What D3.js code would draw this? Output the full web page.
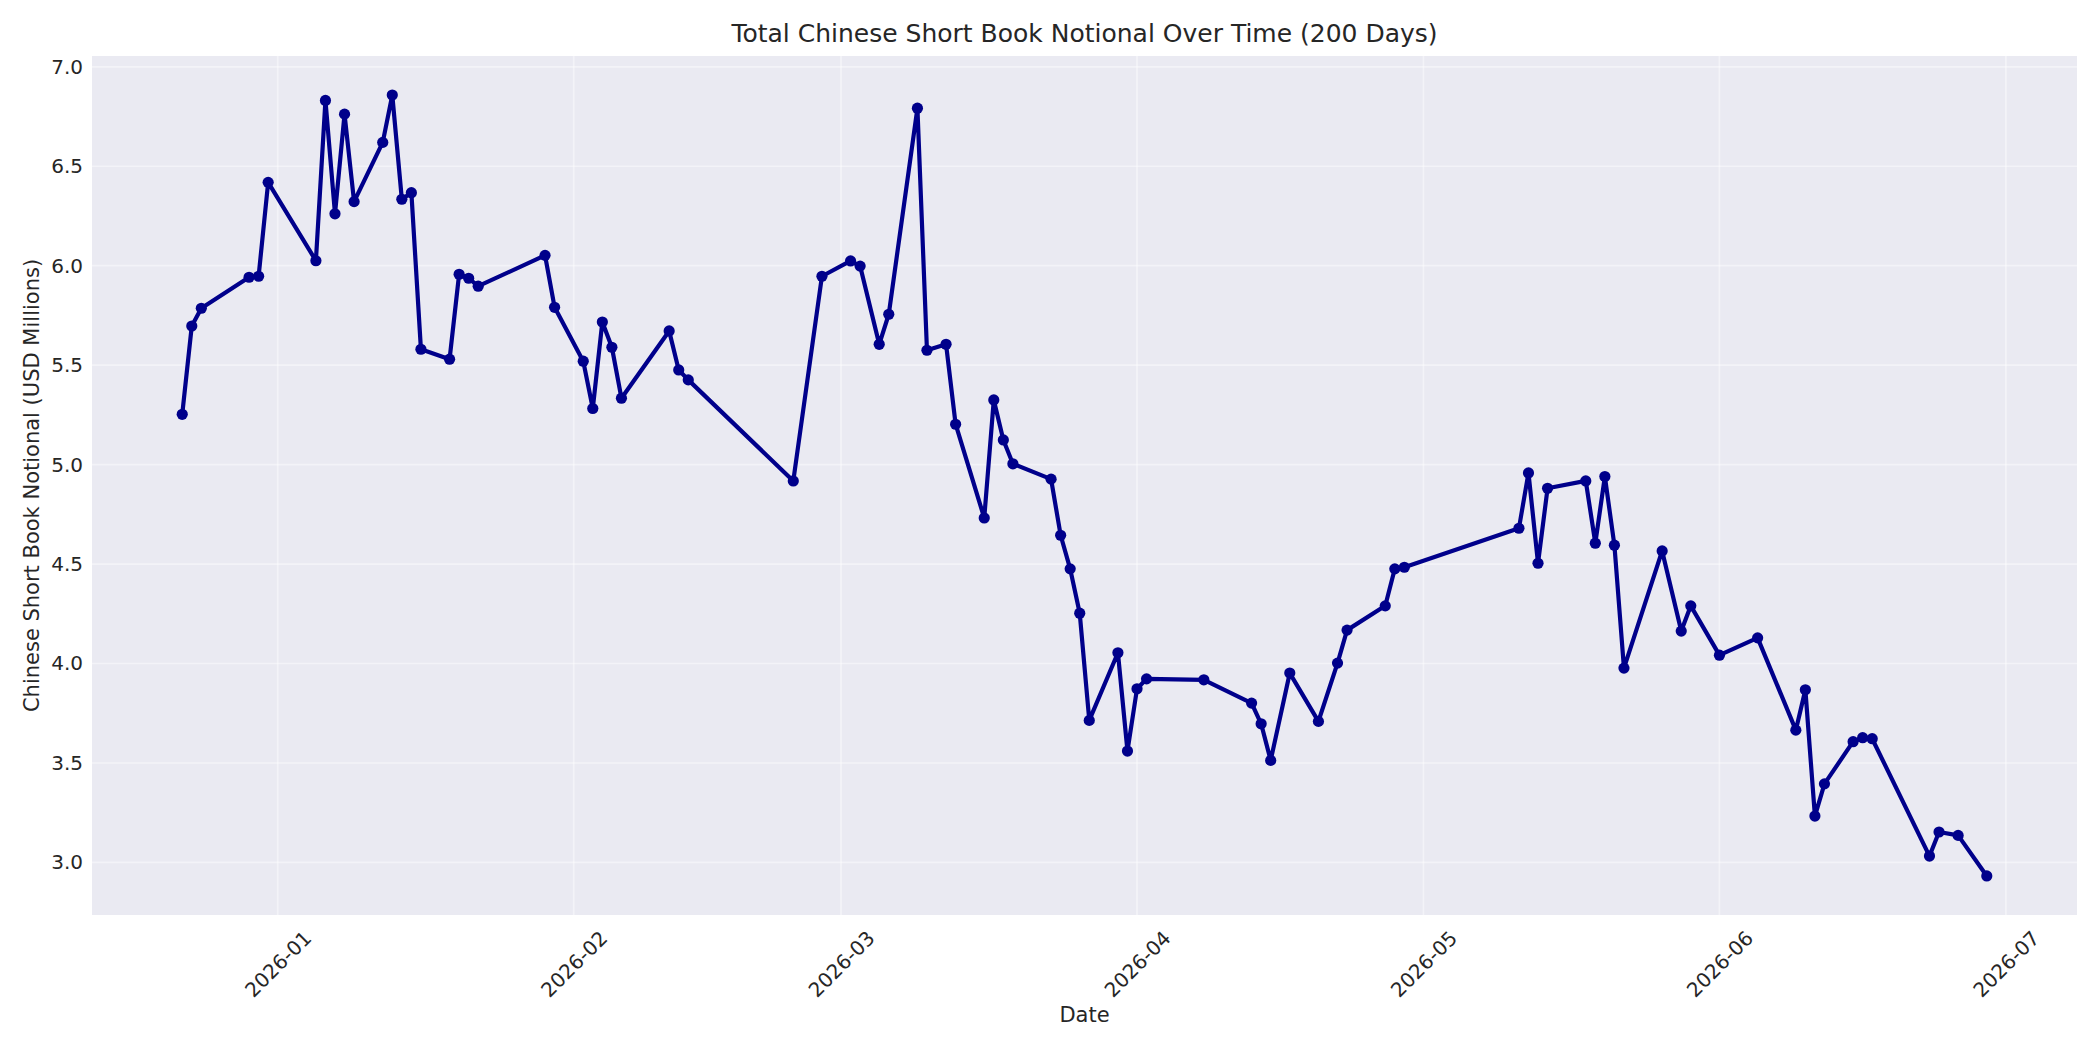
<!DOCTYPE html>
<html>
<head>
<meta charset="utf-8">
<script src="https://cdn.jsdelivr.net/npm/d3@7"></script>
<style>
  body { margin: 0; background: #fff; }
  text { font-family: 'DejaVu Sans', sans-serif; fill: #262626; }
</style>
</head>
<body>
<div class="container"></div>
<script>
// trading days
var dates = [
  '2025-12-22', '2025-12-23', '2025-12-24', '2025-12-29', '2025-12-30', '2025-12-31',
  '2026-01-05', '2026-01-06', '2026-01-07', '2026-01-08', '2026-01-09',
  '2026-01-12', '2026-01-13', '2026-01-14', '2026-01-15', '2026-01-16',
  '2026-01-19', '2026-01-20', '2026-01-21', '2026-01-22', '2026-01-29', '2026-01-30',
  '2026-02-02', '2026-02-03', '2026-02-04', '2026-02-05', '2026-02-06',
  '2026-02-11', '2026-02-12', '2026-02-13', '2026-02-24', '2026-02-27',
  '2026-03-02', '2026-03-03', '2026-03-05', '2026-03-06',
  '2026-03-09', '2026-03-10', '2026-03-12', '2026-03-13',
  '2026-03-16', '2026-03-17', '2026-03-18', '2026-03-19',
  '2026-03-23', '2026-03-24', '2026-03-25', '2026-03-26', '2026-03-27',
  '2026-03-30', '2026-03-31', '2026-04-01', '2026-04-02', '2026-04-08',
  '2026-04-13', '2026-04-14', '2026-04-15', '2026-04-17',
  '2026-04-20', '2026-04-22', '2026-04-23', '2026-04-27', '2026-04-28', '2026-04-29',
  '2026-05-11', '2026-05-12', '2026-05-13', '2026-05-14',
  '2026-05-18', '2026-05-19', '2026-05-20', '2026-05-21', '2026-05-22',
  '2026-05-26', '2026-05-28', '2026-05-29', '2026-06-01', '2026-06-05',
  '2026-06-09', '2026-06-10', '2026-06-11', '2026-06-12',
  '2026-06-15', '2026-06-16', '2026-06-17', '2026-06-23', '2026-06-24', '2026-06-26',
  '2026-06-29'
]

// USD millions
var notional = [
  5.253, 5.697, 5.786, 5.942, 5.947, 6.419,
  6.025, 6.831, 6.261, 6.762, 6.322,
  6.620, 6.858, 6.334, 6.367, 5.580,
  5.530, 5.957, 5.937, 5.897, 6.052, 5.791,
  5.520, 5.282, 5.717, 5.590, 5.334,
  5.672, 5.476, 5.426, 4.918, 5.947,
  6.024, 5.998, 5.605, 5.756,
  6.792, 5.575, 5.605, 5.203,
  4.732, 5.325, 5.124, 5.004,
  4.927, 4.645, 4.476, 4.253, 3.714,
  4.054, 3.560, 3.873, 3.923, 3.918,
  3.801, 3.697, 3.513, 3.952,
  3.709, 4.002, 4.168, 4.290, 4.476, 4.484,
  4.680, 4.958, 4.504, 4.881,
  4.918, 4.605, 4.940, 4.595, 3.977,
  4.566, 4.163, 4.290, 4.042, 4.129,
  3.665, 3.868, 3.233, 3.395,
  3.607, 3.627, 3.622, 3.032, 3.153, 3.136,
  2.932
]

var xTickLabels = ['2026-01', '2026-02', '2026-03', '2026-04', '2026-05', '2026-06', '2026-07']
var yTicks = [3.0, 3.5, 4.0, 4.5, 5.0, 5.5, 6.0, 6.5, 7.0]

var parseDate = d3.utcParse('%Y-%m-%d')
var parseMonth = d3.utcParse('%Y-%m')

var data = dates.map(function (d, i) {
  return { date: parseDate(d), value: notional[i] }
})

var margin = { top: 56, right: 23, bottom: 135, left: 92 }
var width = 2100 - margin.left - margin.right
var height = 1050 - margin.top - margin.bottom

var svg = d3.select('.container')
  .append('svg')
  .attr('width', 2100)
  .attr('height', 1050)
  .append('g')
  .attr('transform', 'translate(' + margin.left + ',' + margin.top + ')')

// matplotlib-style 5% padding on both axes
var tExtent = d3.extent(data, function (d) { return +d.date })
var tPad = (tExtent[1] - tExtent[0]) * 0.05
var vExtent = d3.extent(data, function (d) { return d.value })
var vPad = (vExtent[1] - vExtent[0]) * 0.05

var x = d3.scaleUtc()
  .domain([new Date(tExtent[0] - tPad), new Date(tExtent[1] + tPad)])
  .range([0, width])
var y = d3.scaleLinear()
  .domain([vExtent[0] - vPad, vExtent[1] + vPad])
  .range([height, 0])

var xTicks = xTickLabels.map(parseMonth)

svg.append('rect')
  .attr('width', width)
  .attr('height', height)
  .attr('fill', '#eaeaf2')

// grid
svg.append('g').selectAll('line.hgrid')
  .data(yTicks)
  .enter().append('line')
  .attr('x1', 0).attr('x2', width)
  .attr('y1', function (d) { return y(d) })
  .attr('y2', function (d) { return y(d) })
  .attr('stroke', '#fff').attr('stroke-opacity', 0.45).attr('stroke-width', 1.7)

svg.append('g').selectAll('line.vgrid')
  .data(xTicks)
  .enter().append('line')
  .attr('y1', 0).attr('y2', height)
  .attr('x1', function (d) { return x(d) })
  .attr('x2', function (d) { return x(d) })
  .attr('stroke', '#fff').attr('stroke-opacity', 0.45).attr('stroke-width', 1.7)

// axes
var yAxis = svg.append('g')
  .call(d3.axisLeft(y).tickValues(yTicks).tickSize(0).tickPadding(9).tickFormat(d3.format('.1f')))
yAxis.select('.domain').remove()
yAxis.selectAll('text').style('font-size', '20px').attr('fill', '#262626')

var xAxis = svg.append('g')
  .attr('transform', 'translate(0,' + height + ')')
  .call(d3.axisBottom(x).tickValues(xTicks).tickSize(0).tickFormat(function (d, i) { return xTickLabels[i] }))
xAxis.select('.domain').remove()
xAxis.selectAll('text')
  .style('font-size', '20px')
  .attr('fill', '#262626')
  .attr('y', 0)
  .attr('dy', '0.35em')
  .attr('text-anchor', 'middle')
  .attr('transform', 'translate(0,49) rotate(-45)')

// labels
svg.append('text')
  .attr('x', width / 2)
  .attr('y', -14)
  .attr('text-anchor', 'middle')
  .style('font-size', '25px')
  .text('Total Chinese Short Book Notional Over Time (200 Days)')

svg.append('text')
  .attr('x', width / 2)
  .attr('y', height + 107)
  .attr('text-anchor', 'middle')
  .style('font-size', '21px')
  .text('Date')

svg.append('text')
  .attr('transform', 'translate(-53,' + (height / 2) + ') rotate(-90)')
  .attr('text-anchor', 'middle')
  .style('font-size', '21px')
  .text('Chinese Short Book Notional (USD Millions)')

// series
var valueline = d3.line()
  .x(function (d) { return x(d.date) })
  .y(function (d) { return y(d.value) })

svg.append('path')
  .attr('d', valueline(data))
  .attr('fill', 'none')
  .attr('stroke', '#00008b')
  .attr('stroke-width', 4.2)
  .attr('stroke-linejoin', 'round')

svg.append('g').selectAll('circle')
  .data(data)
  .enter().append('circle')
  .attr('cx', function (d) { return x(d.date) })
  .attr('cy', function (d) { return y(d.value) })
  .attr('r', 5.6)
  .attr('fill', '#00008b')
</script>
</body>
</html>
